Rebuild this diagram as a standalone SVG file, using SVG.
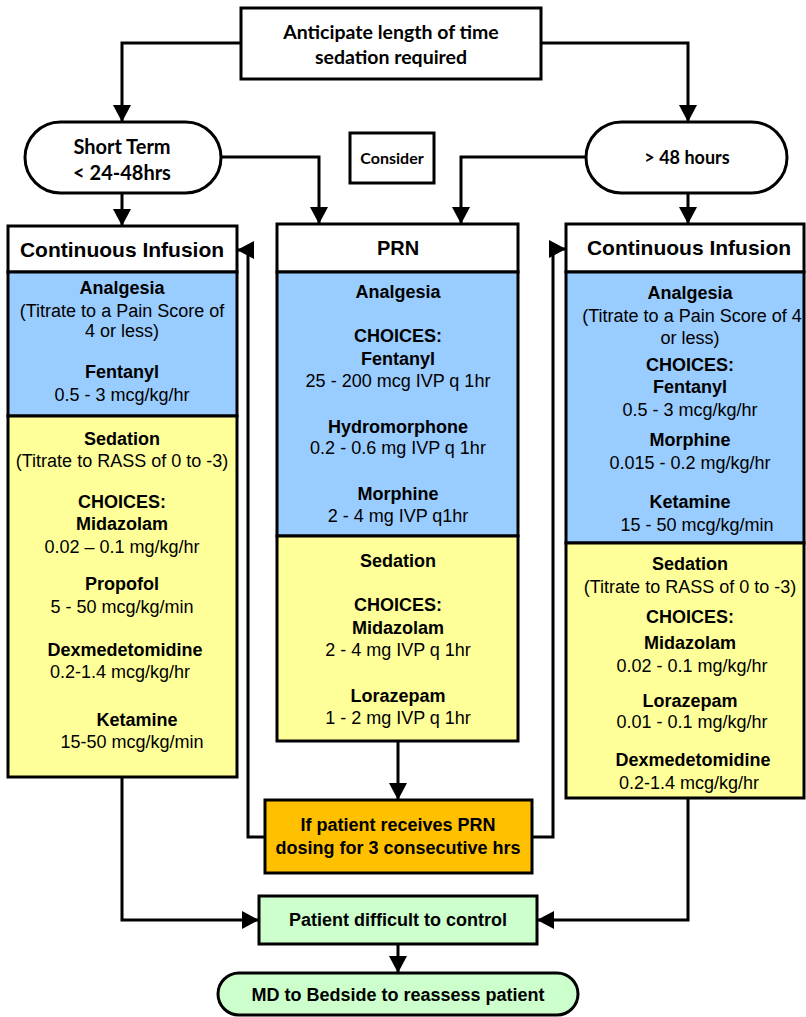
<svg xmlns="http://www.w3.org/2000/svg" width="806" height="1017" viewBox="0 0 806 1017">
<defs>
<marker id="ah" viewBox="0 0 17 18" refX="17" refY="9" markerWidth="17" markerHeight="18" markerUnits="userSpaceOnUse" orient="auto"><path d="M0,0 L17,9 L0,18 z" fill="#000"/></marker>
<style>
.box{stroke:#000;stroke-width:3}
.w{fill:#fff}.bl{fill:#99CCFF}.ye{fill:#FFFF99}.or{fill:#FFC000}.gr{fill:#CCFFCC}
.cal{font-family:Lato,"Liberation Sans",sans-serif;font-weight:bold;font-size:19.5px;fill:#000;text-anchor:middle}
.hd{font-family:"Liberation Sans",Arial,sans-serif;font-weight:bold;font-size:21px;fill:#000;text-anchor:middle}
.b{font-family:"Liberation Sans",Arial,sans-serif;font-weight:bold;font-size:18px;fill:#000;text-anchor:middle}
.r{font-family:"Liberation Sans",Arial,sans-serif;font-size:18px;fill:#000;text-anchor:middle}
.cn{fill:none;stroke:#000;stroke-width:3;marker-end:url(#ah)}
</style>
</defs>
<g id="connectors">
<path class="cn" d="M241,43 H122 V122"/>
<path class="cn" d="M541,43 H688 V122"/>
<path class="cn" d="M221,157 H319 V224"/>
<path class="cn" d="M586,157 H461 V224"/>
<path class="cn" d="M122,193 V226"/>
<path class="cn" d="M688,193 V224"/>
<path class="cn" d="M265,837 H248 V250 H237"/>
<path class="cn" d="M532,837 H553 V249 H566"/>
<path class="cn" d="M398,741 V800"/>
<path class="cn" d="M122,777 V920 H259"/>
<path class="cn" d="M688,798 V920 H537"/>
<path class="cn" d="M398,944 V973"/>
</g>
<g id="start">
<rect class="box w" x="241" y="8" width="300" height="71"/>
<text class="cal" x="391" y="39">Anticipate length of time</text>
<text class="cal" x="391" y="64">sedation required</text>
</g>
<g id="short-term">
<rect class="box w" x="25" y="122" width="196" height="71" rx="35.5"/>
<text class="cal" x="122" y="154" style="font-size:20px">Short Term</text>
<text class="cal" x="122" y="180" style="font-size:20px">&lt; 24-48hrs</text>
</g>
<g id="consider">
<rect class="box w" x="350" y="133" width="84" height="50"/>
<text class="cal" x="392" y="164" style="font-size:16px">Consider</text>
</g>
<g id="long-term">
<rect class="box w" x="586" y="122" width="201" height="71" rx="35.5"/>
<text class="cal" x="687" y="164" style="font-size:18px">&gt; 48 hours</text>
</g>
<g id="ci-left">
<rect class="box w" x="8" y="226" width="229" height="46"/>
<rect class="box bl" x="8" y="272" width="229" height="144"/>
<rect class="box ye" x="8" y="416" width="229" height="361"/>
<text class="hd" x="122" y="257">Continuous Infusion</text>
<text class="b" x="122" y="294">Analgesia</text>
<text class="r" x="122" y="317">(Titrate to a Pain Score of</text>
<text class="r" x="122" y="337">4 or less)</text>
<text class="b" x="122" y="378">Fentanyl</text>
<text class="r" x="122" y="401">0.5 - 3 mcg/kg/hr</text>
<text class="b" x="122" y="445">Sedation</text>
<text class="r" x="122" y="467">(Titrate to RASS of 0 to -3)</text>
<text class="b" x="122" y="508">CHOICES:</text>
<text class="b" x="122" y="530">Midazolam</text>
<text class="r" x="122" y="553">0.02 – 0.1 mg/kg/hr</text>
<text class="b" x="122" y="590">Propofol</text>
<text class="r" x="122" y="613">5 - 50 mcg/kg/min</text>
<text class="b" x="125" y="656">Dexmedetomidine</text>
<text class="r" x="120" y="678">0.2-1.4 mcg/kg/hr</text>
<text class="b" x="137" y="726">Ketamine</text>
<text class="r" x="132" y="748">15-50 mcg/kg/min</text>
</g>
<g id="prn">
<rect class="box w" x="277" y="224" width="241" height="48"/>
<rect class="box bl" x="277" y="272" width="241" height="264"/>
<rect class="box ye" x="277" y="536" width="241" height="205"/>
<text class="b" x="398" y="255" style="font-size:20px">PRN</text>
<text class="b" x="398" y="298">Analgesia</text>
<text class="b" x="398" y="342">CHOICES:</text>
<text class="b" x="398" y="365">Fentanyl</text>
<text class="r" x="398" y="387">25 - 200 mcg IVP q 1hr</text>
<text class="b" x="398" y="433">Hydromorphone</text>
<text class="r" x="398" y="454">0.2 - 0.6 mg IVP q 1hr</text>
<text class="b" x="398" y="500">Morphine</text>
<text class="r" x="398" y="522">2 - 4 mg IVP q1hr</text>
<text class="b" x="398" y="567">Sedation</text>
<text class="b" x="398" y="611">CHOICES:</text>
<text class="b" x="398" y="634">Midazolam</text>
<text class="r" x="398" y="656">2 - 4 mg IVP q 1hr</text>
<text class="b" x="398" y="702">Lorazepam</text>
<text class="r" x="398" y="724">1 - 2 mg IVP q 1hr</text>
</g>
<g id="ci-right">
<rect class="box w" x="566" y="224" width="238" height="48"/>
<rect class="box bl" x="566" y="272" width="238" height="271"/>
<rect class="box ye" x="566" y="543" width="238" height="255"/>
<text class="hd" x="689" y="255">Continuous Infusion</text>
<text class="b" x="690" y="299">Analgesia</text>
<text class="r" x="692" y="322">(Titrate to a Pain Score of 4</text>
<text class="r" x="690" y="344">or less)</text>
<text class="b" x="690" y="371">CHOICES:</text>
<text class="b" x="690" y="393">Fentanyl</text>
<text class="r" x="690" y="416">0.5 - 3 mcg/kg/hr</text>
<text class="b" x="690" y="446">Morphine</text>
<text class="r" x="690" y="469">0.015 - 0.2 mg/kg/hr</text>
<text class="b" x="690" y="508">Ketamine</text>
<text class="r" x="697" y="531">15 - 50 mcg/kg/min</text>
<text class="b" x="690" y="570">Sedation</text>
<text class="r" x="690" y="593">(Titrate to RASS of 0 to -3)</text>
<text class="b" x="690" y="623">CHOICES:</text>
<text class="b" x="690" y="649">Midazolam</text>
<text class="r" x="692" y="672">0.02 - 0.1 mg/kg/hr</text>
<text class="b" x="690" y="707">Lorazepam</text>
<text class="r" x="692" y="728">0.01 - 0.1 mg/kg/hr</text>
<text class="b" x="693" y="766">Dexmedetomidine</text>
<text class="r" x="689" y="789">0.2-1.4 mcg/kg/hr</text>
</g>
<g id="prn-3hrs">
<rect class="box or" x="265" y="800" width="267" height="73"/>
<text class="b" x="398" y="831">If patient receives PRN</text>
<text class="b" x="398" y="854">dosing for 3 consecutive hrs</text>
</g>
<g id="difficult">
<rect class="box gr" x="259" y="896" width="278" height="48"/>
<text class="b" x="398" y="926">Patient difficult to control</text>
</g>
<g id="md-bedside">
<rect class="box gr" x="218" y="973" width="360" height="42" rx="21"/>
<text class="b" x="398" y="1001">MD to Bedside to reassess patient</text>
</g>
</svg>
